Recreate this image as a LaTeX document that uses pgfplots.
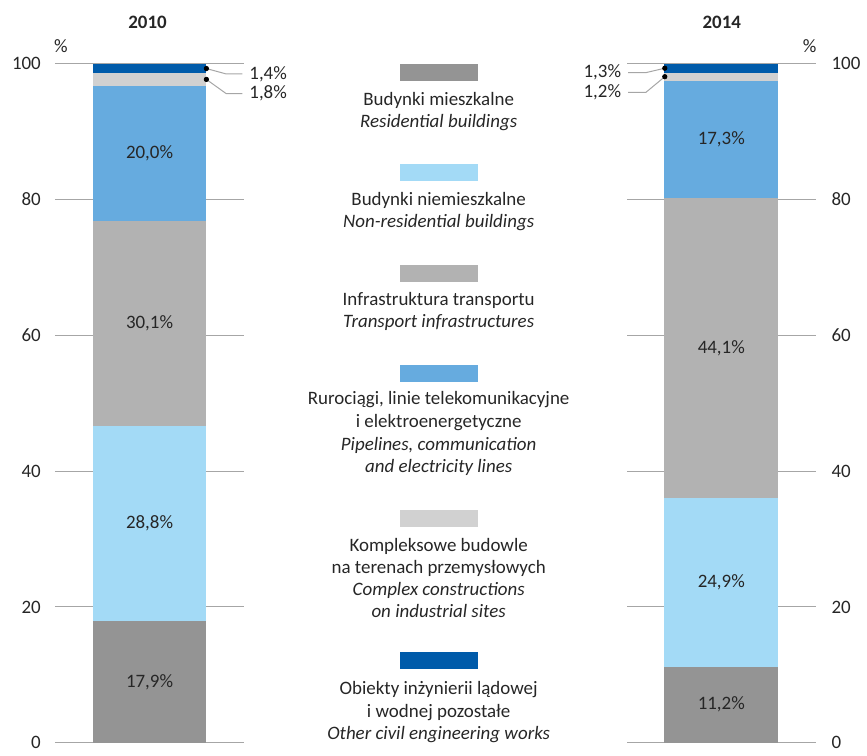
\documentclass[border=0pt]{standalone}
\usepackage{pgfplots}
\pgfplotsset{compat=1.18}
\usepackage{fontspec}
\setmainfont{Carlito}
\definecolor{cRes}{HTML}{949494}
\definecolor{cNon}{HTML}{A3DAF6}
\definecolor{cTra}{HTML}{B2B2B2}
\definecolor{cPip}{HTML}{66ABDF}
\definecolor{cCom}{HTML}{D1D1D1}
\definecolor{cOth}{HTML}{005BAA}
\definecolor{cGrid}{HTML}{A6A6A6}
\definecolor{cTxt}{HTML}{262626}
\newcommand\fs{\fontsize{9.5}{11}\selectfont}
\tikzset{vl/.style={font=\fs, text=cTxt}}
\pgfplotsset{
 barax/.style={scale only axis, height=340.5pt, xmin=-1, xmax=1, ymin=0, ymax=100,
   ybar stacked, bar width=57pt, axis line style={draw=none}, major tick length=0pt,
   xtick=\empty, ytick={0,20,...,100}, ymajorgrids, grid style={cGrid, line width=0.5pt},
   tick label style={font=\fs, text=cTxt}, /pgf/number format/assume math mode=true,
   clip=false, every axis plot/.append style={draw=none}},
 annax/.style={scale only axis, height=340.5pt, xmin=-1, xmax=1, ymin=0, ymax=100,
   hide axis, clip=false},
 lead/.style={cGrid, line width=0.5pt, mark=none},
 dot/.style={only marks, mark=*, mark size=1.1pt, black},
}
\newcommand\legl[2]{\node[anchor=base, font=\fs, text=cTxt, inner sep=0pt] at (440,{744-#1}) {#2};}
\newcommand\sw[2]{\fill[#1] (401,{750-#2-17}) rectangle (479,{750-#2});}
\begin{document}
\begin{tikzpicture}
\begin{scope}[x=0.5pt,y=0.5pt]
\useasboundingbox (0,0) rectangle (867,750);
\node[font=\fs\bfseries, text=cTxt] at (148,728) {2010};
\node[font=\fs\bfseries, text=cTxt] at (724,728) {2014};
\node[font=\fs, text=cTxt] at (61,704) {\%};
\node[font=\fs, text=cTxt] at (812,704) {\%};
% legend
\sw{cRes}{64}
\legl{100}{Budynki mieszkalne}
\legl{122}{\itshape Residential buildings}
\sw{cNon}{165}
\legl{200}{Budynki niemieszkalne}
\legl{222}{\itshape Non-residential buildings}
\sw{cTra}{266}
\legl{300}{Infrastruktura transportu}
\legl{323}{\itshape Transport infrastructures}
\sw{cPip}{366}
\legl{400}{Rurociągi, linie telekomunikacyjne}
\legl{423}{i elektroenergetyczne}
\legl{446}{\itshape Pipelines, communication}
\legl{468}{\itshape and electricity lines}
\sw{cCom}{512}
\legl{547}{Kompleksowe budowle}
\legl{569}{na terenach przemysłowych}
\legl{591}{\itshape Complex constructions}
\legl{613}{\itshape on industrial sites}
\sw{cOth}{654}
\legl{691}{Obiekty inżynierii lądowej}
\legl{714}{i wodnej pozostałe}
\legl{736}{\itshape Other civil engineering works}
\end{scope}

% 2010
\begin{axis}[barax, width=95pt, at={(27.5pt,2.5pt)}, anchor=south west,
  yticklabel style={xshift=-3.5pt}]
\addplot[fill=cRes] coordinates {(0,17.9)};
\addplot[fill=cNon] coordinates {(0,28.8)};
\addplot[fill=cTra] coordinates {(0,30.1)};
\addplot[fill=cPip] coordinates {(0,20.0)};
\addplot[fill=cCom] coordinates {(0,1.8)};
\addplot[fill=cOth] coordinates {(0,1.4)};
\end{axis}
\begin{axis}[annax, width=95pt, at={(27.5pt,2.5pt)}, anchor=south west]
\addplot[lead] coordinates {(0.6,99.3) (0.81,98.5) (0.98,98.5)};
\addplot[lead] coordinates {(0.6,97.7) (0.81,95.6) (0.98,95.6)};
\addplot[dot] coordinates {(0.6,99.3) (0.6,97.7)};
\node[vl, anchor=west, inner sep=0pt] at (axis cs:1.05,98.5) {1,4\%};
\node[vl, anchor=west, inner sep=0pt] at (axis cs:1.05,95.6) {1,8\%};
\node[vl] at (axis cs:0,8.95) {17,9\%};
\node[vl] at (axis cs:0,32.3) {28,8\%};
\node[vl] at (axis cs:0,61.75) {30,1\%};
\node[vl] at (axis cs:0,86.8) {20,0\%};
\end{axis}

% 2014
\begin{axis}[barax, width=94.5pt, at={(314.5pt,2.5pt)}, anchor=south west,
  yticklabel pos=right, yticklabel style={xshift=4.5pt}]
\addplot[fill=cRes] coordinates {(0,11.2)};
\addplot[fill=cNon] coordinates {(0,24.9)};
\addplot[fill=cTra] coordinates {(0,44.1)};
\addplot[fill=cPip] coordinates {(0,17.3)};
\addplot[fill=cCom] coordinates {(0,1.2)};
\addplot[fill=cOth] coordinates {(0,1.3)};
\end{axis}
\begin{axis}[annax, width=94.5pt, at={(314.5pt,2.5pt)}, anchor=south west]
\addplot[lead] coordinates {(-0.6,99.35) (-0.8,98.7) (-0.99,98.7)};
\addplot[lead] coordinates {(-0.6,98.1) (-0.8,95.8) (-0.99,95.8)};
\addplot[dot] coordinates {(-0.6,99.35) (-0.6,98.1)};
\node[vl, anchor=east, inner sep=0pt] at (axis cs:-1.06,98.7) {1,3\%};
\node[vl, anchor=east, inner sep=0pt] at (axis cs:-1.06,95.8) {1,2\%};
\node[vl] at (axis cs:0,5.6) {11,2\%};
\node[vl] at (axis cs:0,23.65) {24,9\%};
\node[vl] at (axis cs:0,58.15) {44,1\%};
\node[vl] at (axis cs:0,88.85) {17,3\%};
\end{axis}
\end{tikzpicture}
\end{document}
